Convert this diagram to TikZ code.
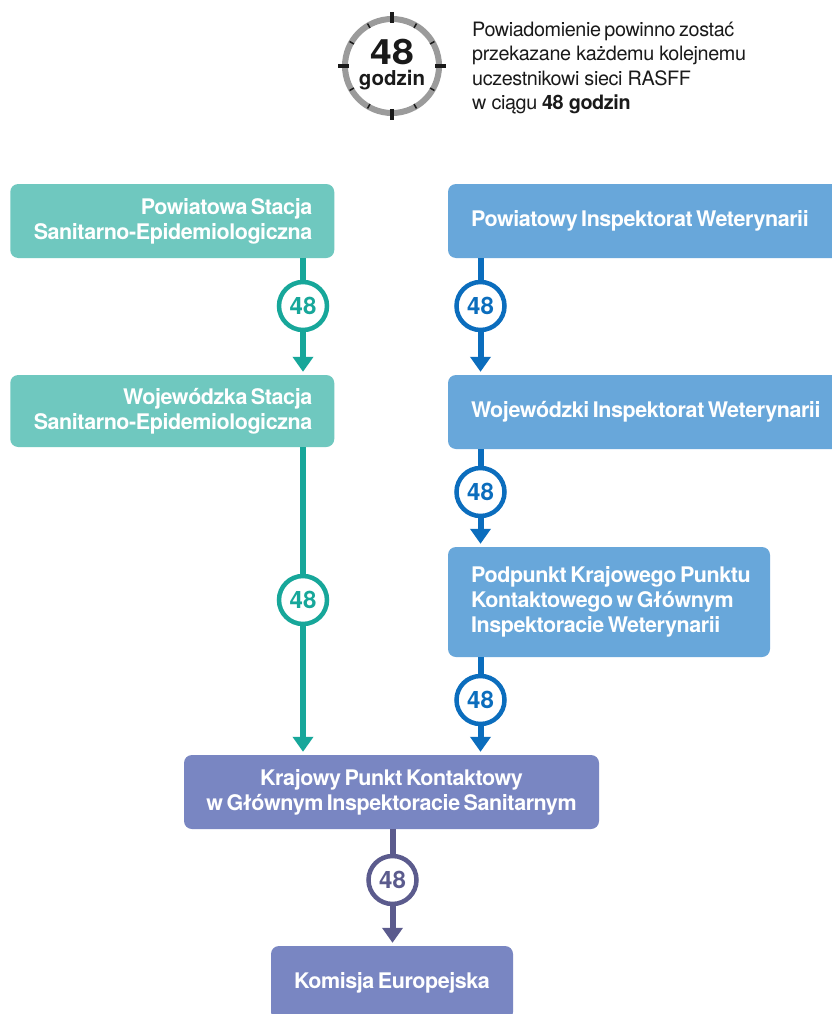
\documentclass[tikz,border=0pt]{standalone}
\usepackage{fontspec}
\setmainfont{TeX Gyre Heros}
\usetikzlibrary{arrows.meta,calc}
\definecolor{tealbox}{HTML}{6FC8BF}
\definecolor{tealline}{HTML}{17A79A}
\definecolor{bluebox}{HTML}{68A7DA}
\definecolor{blueline}{HTML}{0B6DBD}
\definecolor{purplebox}{HTML}{7986C2}
\definecolor{purpleline}{HTML}{5B5B8D}
\definecolor{ringgray}{HTML}{9B9B9B}
\definecolor{ink}{HTML}{1A1A1A}
\newcommand{\boxfont}{\fontsize{21.5}{25}\selectfont\bfseries\addfontfeature{LetterSpace=-2}}
\newcommand{\notefont}{\fontsize{19.8}{24.5}\selectfont\addfontfeature{LetterSpace=-2}}
\newcommand{\tightsp}{\spaceskip=3.5pt\xspaceskip=3.5pt\relax}
\begin{document}
\begin{tikzpicture}[x=1pt,y=-1pt,
  box/.style={rounded corners=8pt, text=white, font=\boxfont, inner ysep=0pt, minimum height=74pt},
  badge/.style={circle, draw=#1, text=#1, fill=white, line width=4.5pt, minimum size=48pt, inner sep=0pt, font=\fontsize{24}{24}\selectfont\bfseries},
  flowline/.style={draw=#1, line width=6pt},
  flowarrow/.style={draw=#1, fill=#1, line width=6pt, -{Triangle[width=20pt,length=15pt]}, shorten >=3pt}]
\useasboundingbox (0,0) rectangle (832,1014);
\fill[white] (0,0) rectangle (832,1014);

% clock
\coordinate (clk) at (392,66);
\draw[ringgray, line width=6pt] (clk) circle[radius=47];
\foreach \a in {0,90,180,270}
  \draw[ink, line width=3.3pt] ($(clk)+(\a:43)$) -- ($(clk)+(\a:54)$);
\foreach \a in {30,60,120,150,210,240,300,330}
  \draw[ink, line width=1.5pt] ($(clk)+(\a:44)$) -- ($(clk)+(\a:49)$);
\node[anchor=base, text=ink, inner sep=0pt, font=\fontsize{35}{35}\selectfont\bfseries] (h48) at (392,64.5) {\scalebox{1.12}[1]{48}};
\node[anchor=base, text=ink, inner sep=0pt, font=\fontsize{20.5}{20.5}\selectfont\bfseries] (hgodz) at (392,85.5) {godzin};

% note
\node[anchor=north west, text=ink, inner sep=0pt, align=left, font=\notefont] (note) at (472,21.5)
  {\tightsp Powiadomienie powinno zostać\\przekazane każdemu kolejnemu\\uczestnikowi sieci RASFF\\w ciągu \textbf{48 godzin}};

% boxes
\node[box, fill=tealbox, text width=280pt, inner xsep=22pt, align=right] (b1) at (172.25,221)
  {\tightsp Powiatowa Stacja\\\mbox{Sanitarno-Epidemiologiczna}};
\node[box, fill=bluebox, text width=414pt, inner xsep=23pt, align=left] (b2) at (678,221)
  {\tightsp Powiatowy Inspektorat Weterynarii};
\node[box, fill=tealbox, text width=280pt, inner xsep=22pt, align=right, minimum height=72pt] (b3) at (172.25,411)
  {\tightsp Wojewódzka Stacja\\\mbox{Sanitarno-Epidemiologiczna}};
\node[box, fill=bluebox, text width=414pt, inner xsep=23pt, align=left] (b4) at (678,412)
  {\tightsp Wojewódzki Inspektorat Weterynarii};
\node[box, fill=bluebox, text width=276pt, inner xsep=23pt, align=left, minimum height=110pt] (b5) at (609,602)
  {\tightsp\mbox{Podpunkt Krajowego Punktu}\\\mbox{Kontaktowego w Głównym}\\\mbox{Inspektoracie Weterynarii}};
\node[box, fill=purplebox, text width=395pt, inner xsep=10pt, align=center] (b6) at (391.5,792)
  {\tightsp Krajowy Punkt Kontaktowy\\w Głównym Inspektoracie Sanitarnym};
\node[box, fill=purplebox, text width=222pt, inner xsep=10pt, align=center] (b7) at (392,983)
  {\tightsp Komisja Europejska};

% badge positions
\coordinate (k1) at (303,306);
\coordinate (k2) at (480.5,306);
\coordinate (k3) at (303,600);
\coordinate (k4) at (480.5,492);
\coordinate (k5) at (480.5,700);
\coordinate (k6) at (392.5,880);

% connectors
\draw[flowline=tealline] (b1.south -| k1) -- (k1);
\draw[flowarrow=tealline] (k1) -- (b3.north -| k1);
\draw[flowline=blueline] (b2.south -| k2) -- (k2);
\draw[flowarrow=blueline] (k2) -- (b4.north -| k2);
\draw[flowline=tealline] (b3.south -| k3) -- (k3);
\draw[flowarrow=tealline] (k3) -- (b6.north -| k3);
\draw[flowline=blueline] (b4.south -| k4) -- (k4);
\draw[flowarrow=blueline] (k4) -- (b5.north -| k4);
\draw[flowline=blueline] (b5.south -| k5) -- (k5);
\draw[flowarrow=blueline] (k5) -- (b6.north -| k5);
\draw[flowline=purpleline] (b6.south -| k6) -- (k6);
\draw[flowarrow=purpleline] (k6) -- (b7.north -| k6);

% badges
\node[badge=tealline] (c1) at (k1) {48};
\node[badge=blueline] (c2) at (k2) {48};
\node[badge=tealline] (c3) at (k3) {48};
\node[badge=blueline] (c4) at (k4) {48};
\node[badge=blueline] (c5) at (k5) {48};
\node[badge=purpleline] (c6) at (k6) {48};
\end{tikzpicture}
\end{document}
